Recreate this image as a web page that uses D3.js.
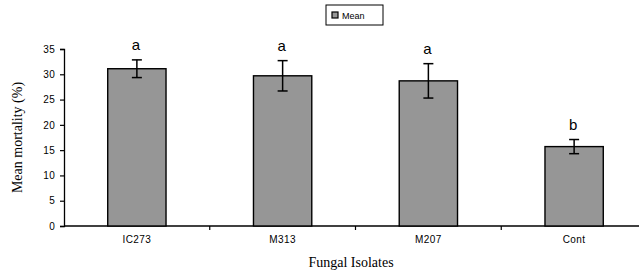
<!DOCTYPE html>
<html>
<head>
<meta charset="utf-8">
<script src="https://cdn.jsdelivr.net/npm/d3@7"></script>
<style>
body { margin: 0; background: #fff; }
svg { display: block; }
</style>
</head>
<body>
<svg id="chart" width="639" height="276"></svg>
<script>
var categories = ['IC273', 'M313', 'M207', 'Cont'];
var means = [31.1, 29.7, 28.7, 15.7];
var errors = [1.75, 3.0, 3.4, 1.4];
var letters = ['a', 'a', 'a', 'b'];
var yTicks = [0, 5, 10, 15, 20, 25, 30, 35];

var svg = d3.select('#chart');
var plotLeft = 64, plotRight = 647, plotTop = 49, plotBottom = 226;

var x = d3.scaleBand().domain(categories).range([plotLeft, plotRight]).paddingInner(0.6).paddingOuter(0.3);
var y = d3.scaleLinear().domain([0, 35]).range([plotBottom, plotTop]);

// y axis
var yAxis = svg.append('g')
  .attr('transform', 'translate(' + plotLeft + ',0)')
  .call(d3.axisLeft(y).tickValues(yTicks).tickSize(4).tickPadding(5));
yAxis.select('.domain').attr('stroke', '#000').attr('stroke-width', 1.3);
yAxis.selectAll('.tick line').attr('stroke-width', 1.2);
yAxis.selectAll('text').attr('font-family', 'Liberation Sans, Arial, sans-serif').attr('font-size', 10)
  .attr('letter-spacing', 0.3).attr('fill', '#000');

// x axis with ticks between the groups
var step = x.step();
var xAxis = svg.append('g').attr('transform', 'translate(0,' + plotBottom + ')');
xAxis.append('line').attr('x1', plotLeft).attr('x2', plotRight).attr('stroke', '#000').attr('stroke-width', 1.3);
xAxis.selectAll('line.sep')
  .data(categories.slice(1))
  .enter().append('line')
  .attr('class', 'sep')
  .attr('x1', function (d) { return x(d) + x.bandwidth() / 2 - step / 2; })
  .attr('x2', function (d) { return x(d) + x.bandwidth() / 2 - step / 2; })
  .attr('y1', 0).attr('y2', 4)
  .attr('stroke', '#000').attr('stroke-width', 1.2);
xAxis.selectAll('text')
  .data(categories)
  .enter().append('text')
  .attr('x', function (d) { return x(d) + x.bandwidth() / 2; })
  .attr('y', 17)
  .attr('text-anchor', 'middle')
  .attr('font-family', 'Liberation Sans, Arial, sans-serif')
  .attr('font-size', 10)
  .attr('letter-spacing', 0.4)
  .text(function (d) { return d; });

// bars
svg.selectAll('rect.bar')
  .data(categories)
  .enter().append('rect')
  .attr('class', 'bar')
  .attr('x', function (d) { return x(d); })
  .attr('y', function (d, i) { return y(means[i]); })
  .attr('width', x.bandwidth())
  .attr('height', function (d, i) { return y(0) - y(means[i]); })
  .attr('fill', '#969696')
  .attr('stroke', '#000')
  .attr('stroke-width', 1.4);

// error bars
var eb = svg.selectAll('g.err')
  .data(categories)
  .enter().append('g')
  .attr('class', 'err')
  .attr('stroke', '#000')
  .attr('stroke-width', 1.5);
eb.append('line')
  .attr('x1', function (d) { return x(d) + x.bandwidth() / 2; })
  .attr('x2', function (d) { return x(d) + x.bandwidth() / 2; })
  .attr('y1', function (d, i) { return y(means[i] + errors[i]); })
  .attr('y2', function (d, i) { return y(means[i] - errors[i]); });
[1, -1].forEach(function (s) {
  eb.append('line')
    .attr('x1', function (d) { return x(d) + x.bandwidth() / 2 - 5; })
    .attr('x2', function (d) { return x(d) + x.bandwidth() / 2 + 5; })
    .attr('y1', function (d, i) { return y(means[i] + s * errors[i]); })
    .attr('y2', function (d, i) { return y(means[i] + s * errors[i]); });
});

// significance letters
svg.selectAll('text.letter')
  .data(categories)
  .enter().append('text')
  .attr('class', 'letter')
  .attr('x', function (d) { return x(d) + x.bandwidth() / 2 - 1; })
  .attr('y', function (d, i) { return y(means[i] + errors[i]) - 10; })
  .attr('text-anchor', 'middle')
  .attr('font-family', 'Liberation Sans, Arial, sans-serif')
  .attr('font-size', 15)
  .text(function (d, i) { return letters[i]; });

// axis titles
svg.append('text')
  .attr('transform', 'translate(22,' + ((plotTop + plotBottom) / 2) + ') rotate(-90)')
  .attr('text-anchor', 'middle')
  .attr('font-family', 'Liberation Serif, Times New Roman, serif')
  .attr('font-size', 14)
  .text('Mean mortality (%)');
svg.append('text')
  .attr('x', 351)
  .attr('y', 267)
  .attr('text-anchor', 'middle')
  .attr('font-family', 'Liberation Serif, Times New Roman, serif')
  .attr('font-size', 14)
  .text('Fungal Isolates');

// legend
var lg = svg.append('g').attr('transform', 'translate(326,5)');
lg.append('rect').attr('width', 57).attr('height', 20).attr('fill', '#fff').attr('stroke', '#000').attr('stroke-width', 1);
lg.append('rect').attr('x', 6).attr('y', 7).attr('width', 6).attr('height', 6).attr('fill', '#969696').attr('stroke', '#000').attr('stroke-width', 1.2);
lg.append('text').attr('x', 16).attr('y', 14).attr('font-family', 'Liberation Sans, Arial, sans-serif').attr('font-size', 9).text('Mean');
</script>
</body>
</html>
